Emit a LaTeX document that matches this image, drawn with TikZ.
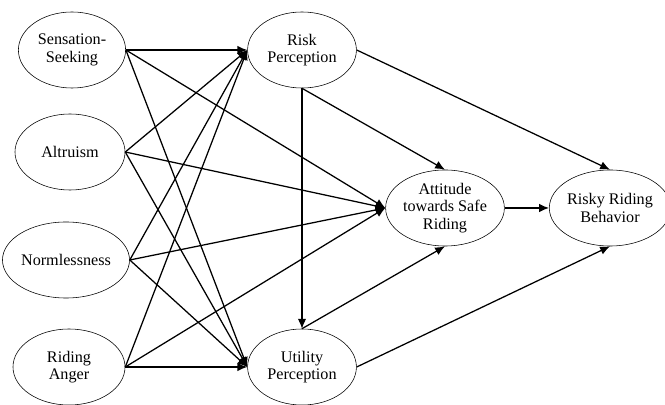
\documentclass[tikz,border=0pt]{standalone}
\usepackage{fontspec}
\setmainfont{Liberation Serif}
\usetikzlibrary{shapes,arrows.meta,positioning}

\begin{document}
\begin{tikzpicture}[x=0.025cm,y=-0.025cm,->,>={Latex[length=7pt,width=6pt]},line width=0.9pt,
  construct/.style={ellipse,draw,thin,minimum width=2.75cm,minimum height=1.9cm,inner sep=0pt,
    align=center,font=\fontsize{11.5}{12.5}\selectfont}]
\useasboundingbox (0,0) rectangle (665,405);
% exogenous constructs
\node [construct,minimum width=2.68cm] (ss) at (72,50) {Sensation-\\Seeking};
\node [construct] (al) at (70,152) {Altruism};
\node [construct,minimum width=2.95cm] (nl) at (66,260) {Normlessness};
\node [construct,minimum width=2.8cm] (ra) at (69,367) {Riding\\Anger};
% mediators
\node [construct,minimum width=2.72cm] (rp) at (302,50) {Risk\\Perception};
\node [construct,minimum width=2.72cm] (up) at (302,367) {Utility\\Perception};
\node [construct] (att) at (445,208) {Attitude\\towards Safe\\Riding};
\node [construct] (rr) at (610,208) {Risky Riding\\Behavior};
% paths from the left column
\foreach \src in {ss,al,nl,ra} {
  \draw (\src.east) -- (rp.west);
  \draw (\src.east) -- (att.west);
  \draw (\src.east) -- (up.west);
}
\draw (rp.south) -- (up.north);
\draw (rp.south) -- (att.north);
\draw (rp.east) -- (rr.north);
\draw (up.north) -- (att.south);
\draw (up.east) -- (rr.south);
\draw (att.east) -- (rr.west);
\end{tikzpicture}
\end{document}
